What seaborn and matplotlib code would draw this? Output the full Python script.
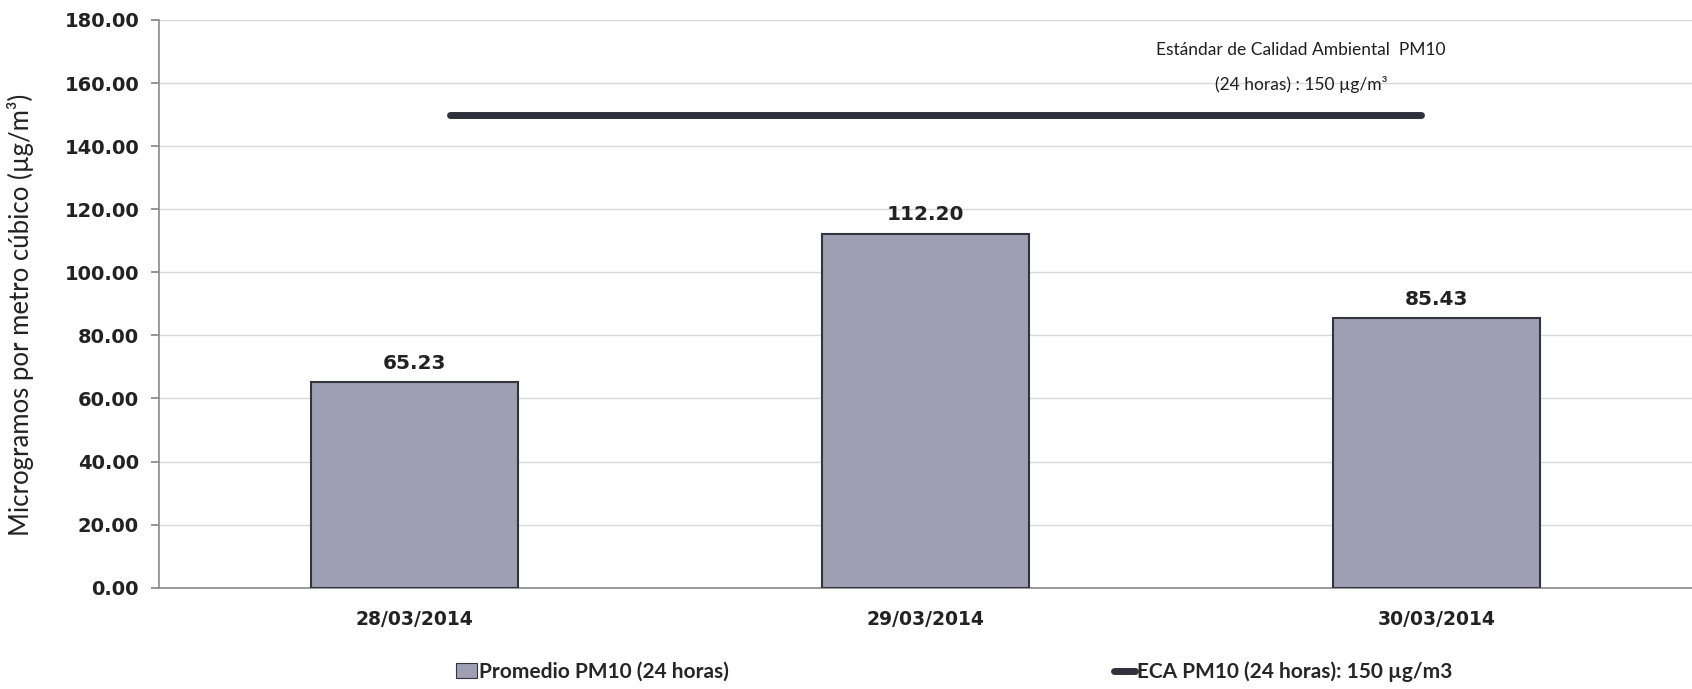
import pandas as pd
import numpy as np
import matplotlib.pyplot as plt
import seaborn as sns
from matplotlib.lines import Line2D
from matplotlib.patches import Patch

# data
fechas = ["28/03/2014", "29/03/2014", "30/03/2014"]
promedio_pm10 = [65.23, 112.20, 85.43]
eca_pm10 = 150
y_ticks = [0, 20, 40, 60, 80, 100, 120, 140, 160, 180]

df = pd.DataFrame({"fecha": fechas, "pm10": promedio_pm10})

sns.set_theme(style="white")
plt.rcParams['font.family'] = ['DejaVu Sans']

bar_color = "#9f9fb4"
edge_color = "#34343f"
line_color = "#2f323c"

fig = plt.figure(figsize=(16.92, 6.89), dpi=100)
ax = fig.add_axes([0.0937, 0.147, 0.9063, 0.824])

sns.barplot(data=df, x="fecha", y="pm10", color=bar_color, width=0.405,
            edgecolor=edge_color, linewidth=1.5, saturation=1, ax=ax, zorder=3)

# ECA reference line
ax.plot([0.07, 1.97], [eca_pm10, eca_pm10], color=line_color, lw=5,
        solid_capstyle="round", zorder=4)
ax.text(1.735, 170.6, "Estándar de Calidad Ambiental  PM10", ha="center", va="center",
        fontsize=12.5, family="Lato", color="#1e1e1e")
ax.text(1.735, 159.6, "(24 horas) : 150 µg/m³", ha="center", va="center",
        fontsize=12.5, family="Lato", color="#1e1e1e")

# value labels
for i, v in enumerate(promedio_pm10):
    ax.text(i, v + 3, f"{v:.2f}", ha="center", va="bottom", fontsize=14.5,
            fontweight="bold", color="#222222")

ax.set_xlim(-0.5, 2.5)
ax.set_ylim(0, 180)
ax.set_yticks(y_ticks)
ax.set_yticklabels([f"{t:.2f}" for t in y_ticks], fontsize=14, fontweight="bold", color="#222222")
ax.set_xticks(range(len(fechas)))
ax.set_xticklabels(fechas, fontsize=13.5, fontweight="bold", color="#222222")
ax.tick_params(axis="y", length=6, color="#888888", direction="out", left=True, pad=8)
ax.tick_params(axis="x", length=0, pad=16)
ax.grid(axis="y", color="#d9d9d9", lw=1, zorder=0)
ax.set_axisbelow(True)
ax.set_xlabel("")
ax.set_ylabel("")
for s in ["top", "right"]:
    ax.spines[s].set_visible(False)
for s in ["left", "bottom"]:
    ax.spines[s].set_color("#8a8a8a")
    ax.spines[s].set_linewidth(1.2)

fig.text(0.012, 0.543, "Microgramos por metro cúbico (µg/m³)", rotation=90,
         ha="center", va="center", fontsize=18.5, family="Lato", color="#222222")

handles = [Patch(facecolor=bar_color, edgecolor=edge_color, lw=0.8),
           Line2D([0], [0], color=line_color, lw=5)]
labels = ["Promedio PM10 (24 horas)", "ECA PM10 (24 horas): 150 µg/m3"]
fig.legend(handles, labels, loc="center", bbox_to_anchor=(0.564, 0.025), ncol=2,
           frameon=False, prop={"family": "Lato", "size": 15, "weight": "bold"},
           handlelength=1.0, handletextpad=0.1, columnspacing=18.5)

fig.savefig("out.png", dpi=100)
